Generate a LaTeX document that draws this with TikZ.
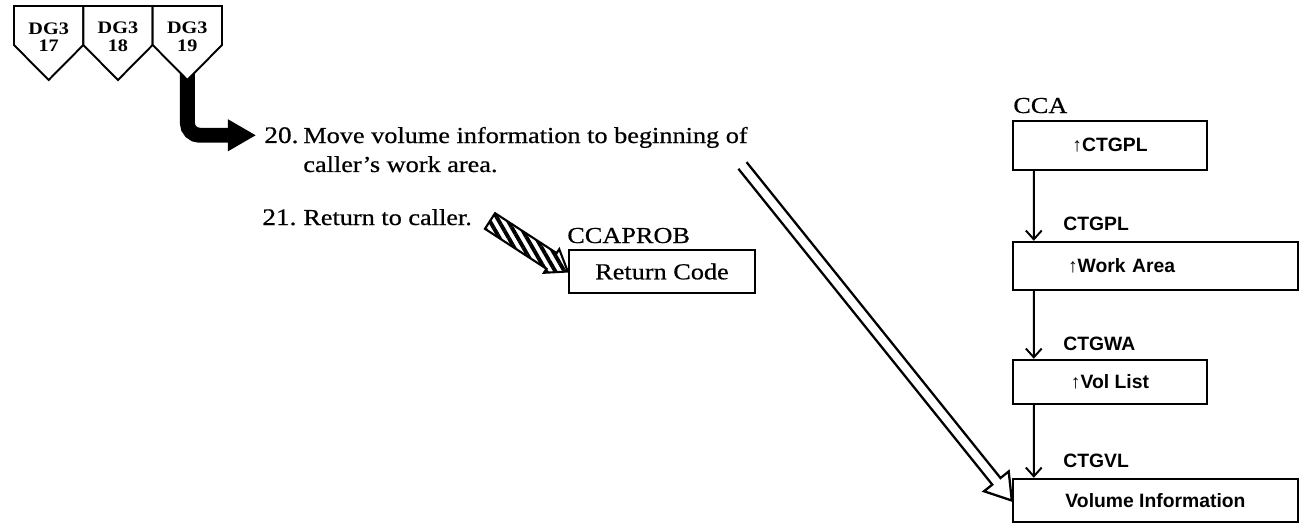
\documentclass[tikz,border=0pt]{standalone}
\usepackage{fontspec}
\setmainfont{Liberation Serif}[FakeStretch=1.15, UprightFeatures={FakeBold=0.6}]
\newfontfamily\ctgfont{Liberation Sans}
\usetikzlibrary{arrows.meta,calc,patterns.meta}

% corner points of a wide arrow: #1 prefix, #2 from, #3 to,
% #4 half shaft width, #5 half head width, #6 head length
\newcommand{\arrowpoints}[6]{%
  \coordinate (#1c) at ($(#3)!#6!(#2)$);
  \coordinate (#1l0) at ($(#2)!#4!90:(#3)$);
  \coordinate (#1l1) at ($(#1c)!#4!90:(#3)$);
  \coordinate (#1l2) at ($(#1c)!#5!90:(#3)$);
  \coordinate (#1r2) at ($(#1c)!#5!-90:(#3)$);
  \coordinate (#1r1) at ($(#1c)!#4!-90:(#3)$);
  \coordinate (#1r0) at ($(#2)!#4!-90:(#3)$);
}

\begin{document}
\begin{tikzpicture}[x=0.02cm, y=0.02cm,
  dgbox/.style={draw, line width=1.1pt, fill=white, line join=miter},
  dglabel/.style={font=\bfseries\fontsize{10}{10}\selectfont, align=center, inner sep=0},
  txt/.style={inner sep=0, font=\fontsize{13}{16.5}\selectfont, align=left},
  stepno/.style={inner sep=0, font=\fontsize{13.5}{16.5}\selectfont},
  box/.style={draw, line width=1.4pt, inner sep=0, font=\ctgfont\bfseries\fontsize{11}{12}\selectfont},
  ctg/.style={inner sep=0, font=\ctgfont\bfseries\fontsize{11}{13}\selectfont},
  conn/.style={line width=1.1pt, -{Straight Barb[length=5pt,width=9pt]}},
  bigarrow/.style={line width=8.5pt, rounded corners=7pt, -{Triangle[length=16pt,width=17pt]}},
  hollow/.style={draw, line width=1.3pt, line join=miter},
  hatched/.style={pattern={Lines[angle=-60,distance=4.5pt,line width=2.2pt]}}
]
\useasboundingbox (0,0) rectangle (1302,-527);

% steps 20 and 21
\node[stepno, anchor=base west] (n20) at (264,-143) {20.};
\node[txt, anchor=base west] (t20) at (303,-172) {Move volume information to beginning of\\caller's work area.};
\node[stepno, anchor=base west] (n21) at (262,-225) {21.};
\node[txt, anchor=base west] (t21) at (303,-225) {Return to caller.};

% entry from the off-page connectors
\coordinate (dgfoot) at (187.35,-66);
\draw[bigarrow, shorten >=4.5pt] (dgfoot) |- (n20.west);
\foreach \n/\x in {17/14, 18/83.3, 19/152.7} {
  \draw[dgbox] (\x,-6) -- ++(69.3,0) -- ++(0,-39) -- ++(-34.65,-35) -- ++(-34.65,35) -- cycle;
  \node[dglabel] (dg\n) at (\x+34.65,-37) {DG3\\\n};
}

% return code
\node[anchor=base west, inner sep=0, font=\fontsize{13}{15}\selectfont] (ccaprob) at (567,-243) {CCAPROB};
\node[box, font=\fontsize{13}{15}\selectfont, minimum width=3.72cm, minimum height=0.86cm] (rc) at (662,-271.5) {Return Code};
\coordinate (hfrom) at (490,-221);
\arrowpoints{h}{hfrom}{rc.west}{5.3pt}{8pt}{11pt}
\draw[line width=1.2pt, hatched] (hl0) -- (hl1) -- (hl2) -- (rc.west) -- (hr2) -- (hr1) -- (hr0) -- cycle;

% control block chain
\node[anchor=base west, inner sep=0, font=\fontsize{13}{15}\selectfont] (ccalbl) at (1013,-113) {CCA};
\node[box, minimum width=3.88cm, minimum height=0.98cm] (cca) at (1110,-145.5) {↑CTGPL};
\node[ctg, anchor=base west] (ctgpl) at (1063,-230) {CTGPL};
\node[box, minimum width=5.7cm, minimum height=0.96cm, text width=3.5cm, inner xsep=1.1cm, align=left] (wa) at (1155.5,-266) {↑Work Area};
\node[ctg, anchor=base west] (ctgwa) at (1063,-350) {CTGWA};
\node[box, minimum width=3.88cm, minimum height=0.88cm] (vl) at (1110,-382) {↑Vol List};
\node[ctg, anchor=base west] (ctgvl) at (1063,-467) {CTGVL};
\node[box, minimum width=5.7cm, minimum height=0.86cm] (vi) at (1155.5,-500.5) {Volume Information};

\draw[conn] ($(cca.south west)+(22,0)$) -- ($(wa.north west)+(22,0)$);
\draw[conn] ($(wa.south west)+(22,0)$) -- ($(vl.north west)+(22,0)$);
\draw[conn] ($(vl.south west)+(22,0)$) -- ($(vi.north west)+(22,0)$);

% moved data goes to the volume information
\coordinate (vfrom) at (742.5,-165.5);
\arrowpoints{v}{vfrom}{vi.west}{3pt}{9pt}{14pt}
\draw[hollow] (vl0) -- (vl1) -- (vl2) -- (vi.west) -- (vr2) -- (vr1) -- (vr0);
\end{tikzpicture}
\end{document}
